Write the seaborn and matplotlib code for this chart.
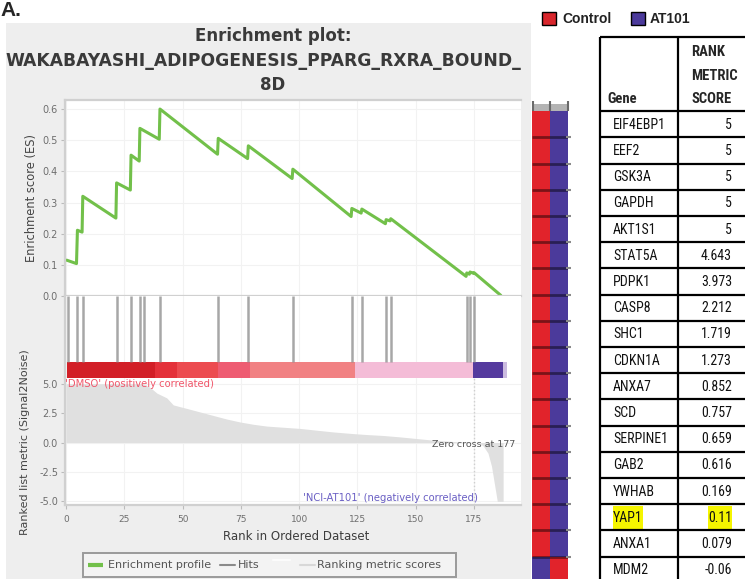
import numpy as np
import pandas as pd
import matplotlib
matplotlib.use("Agg")
import matplotlib.pyplot as plt
import seaborn as sns
from matplotlib import font_manager as fm
from matplotlib.colors import ListedColormap
from matplotlib.patches import Rectangle

# ---------------- data ----------------
es_rank = [0.3, 4.5, 4.9, 6.9, 7.2, 21.4, 21.7, 27.6, 27.9, 31.4, 31.7, 40.0, 40.3,
           65.0, 65.3, 77.9, 78.2, 97.0, 97.3, 122.3, 122.6, 126.6, 126.9, 137.0,
           137.3, 139.0, 139.3, 171.6, 171.9, 173.0, 173.3, 174.7, 175.0, 186.5]
es_value = [0.115, 0.104, 0.211, 0.205, 0.320, 0.250, 0.363, 0.340, 0.452, 0.433,
            0.538, 0.503, 0.600, 0.455, 0.506, 0.441, 0.482, 0.377, 0.407, 0.255,
            0.281, 0.266, 0.279, 0.232, 0.245, 0.241, 0.248, 0.063, 0.074, 0.070,
            0.077, 0.073, 0.075, 0.002]
hit_ranks = [1.0, 4.9, 7.2, 21.7, 27.9, 31.7, 33.5, 40.3, 65.3, 78.2, 97.3, 122.6,
             126.9, 137.3, 139.3, 171.9, 173.3, 175.0]
metric_rank = [0, 33, 36, 39, 43.2, 46.0, 51.8, 57.5, 63.2, 68.9, 74.6, 80.4, 86.1,
               93.2, 100.4, 107.5, 114.7, 123.2, 129.0, 136.1, 143.3, 150.4, 157.6,
               165.0, 172.0, 177.0, 179.0, 181.0, 182.5, 183.5, 185.0, 187.5]
metric_value = [5.0, 5.0, 4.7, 4.2, 3.8, 3.2, 2.9, 2.6, 2.3, 2.0, 1.75, 1.55, 1.4,
                1.3, 1.2, 1.05, 0.9, 0.76, 0.68, 0.6, 0.48, 0.34, 0.2, 0.1, 0.03,
                0.0, -0.3, -0.9, -2.0, -3.2, -5.0, -5.0]
bar_edges = [0.3, 38.2, 47.5, 65.3, 78.9, 124.0, 174.7, 187.6, 189.0]
bar_colors = ['#d21f27', '#e4313a', '#ec4b50', '#ee5c72', '#f18183', '#f4bcd7',
              '#553a9e', '#cbbbdf']
es_ticks = [0.0, 0.1, 0.2, 0.3, 0.4, 0.5, 0.6]
metric_ticks = [5.0, 2.5, 0.0, -2.5, -5.0]
rank_ticks = [0, 25, 50, 75, 100, 125, 150, 175]
zero_cross = 177

genes = ['EIF4EBP1', 'EEF2', 'GSK3A', 'GAPDH', 'AKT1S1', 'STAT5A', 'PDPK1', 'CASP8',
         'SHC1', 'CDKN1A', 'ANXA7', 'SCD', 'SERPINE1', 'GAB2', 'YWHAB', 'YAP1',
         'ANXA1', 'MDM2']
scores = ['5', '5', '5', '5', '5', '4.643', '3.973', '2.212', '1.719', '1.273',
          '0.852', '0.757', '0.659', '0.616', '0.169', '0.11', '0.079', '-0.06']
control_expr = [1] * 17 + [-1]
at101_expr = [-1] * 17 + [1]
groups = ['Control', 'AT101']
group_colors = ['#d8262c', '#4b3a9b']
highlight_gene = 'YAP1'

# ---------------- fonts ----------------
def pick(names, default='DejaVu Sans'):
    for n in names:
        try:
            fm.findfont(fm.FontProperties(family=n), fallback_to_default=False)
            return n
        except Exception:
            pass
    return default

sns.set_style("white")
plt.rcParams['font.family'] = ['DejaVu Sans']
plt.rcParams['axes.unicode_minus'] = False
narrow = pick(['Liberation Sans Narrow', 'Roboto Condensed', 'Open Sans Condensed'], 'Liberation Sans')
arial = pick(['Liberation Sans', 'Arimo'], 'DejaVu Sans')

W, H = 745, 579
fig = plt.figure(figsize=(W / 100, H / 100), dpi=100)
fig.patch.set_facecolor('white')


def px_axes(x0, y0, x1, y1):
    return fig.add_axes([x0 / W, 1 - y1 / H, (x1 - x0) / W, (y1 - y0) / H])


bg = px_axes(0, 0, W, H)
bg.set_xlim(0, W)
bg.set_ylim(H, 0)
bg.axis('off')
bg.add_patch(Rectangle((6, 23), 525, 560, color='#eeeeee', lw=0))

X0, X1 = 65, 521
PXR = 2.3314
xl = ((X0 - 66) / PXR, (X1 - 66) / PXR)
spine_c = '#d0d0d0'
tick_c = '#6e6e6e'

# ---- ES panel ----
ax_es = px_axes(X0, 100, X1, 296)
ax_es.set_facecolor('white')
sns.lineplot(x=es_rank, y=es_value, ax=ax_es, color='#72c04a', lw=2.2,
             estimator=None, sort=False)
for ln in ax_es.lines:
    ln.set_clip_on(False)
ax_es.set_xlim(xl)
ax_es.set_ylim(0, 0.629)
ax_es.set_yticks(es_ticks)
ax_es.set_yticklabels([f'{v:.1f}' for v in es_ticks])
ax_es.set_xticks(rank_ticks)
ax_es.tick_params(axis='x', length=0, labelbottom=False)
ax_es.tick_params(axis='y', length=3, color='#bbbbbb', labelsize=7, labelcolor=tick_c, pad=2, left=True)
ax_es.grid(True, color='#f2f2f2', lw=0.8)
ax_es.set_axisbelow(True)
for s in ax_es.spines.values():
    s.set_color(spine_c)
    s.set_linewidth(1.6)
ax_es.spines['right'].set_visible(False)
ax_es.set_xlabel('')
ax_es.set_ylabel('')

# ---- hits + colour bar panel ----
ax_h = px_axes(X0, 296, X1, 378)
ax_h.set_facecolor('white')
ax_h.set_xlim(xl)
ax_h.set_ylim(82, 0)
ax_h.vlines(hit_ranks, 0, 66, color='#8a8a8a', lw=1.8, alpha=0.75)
for a, b, c in zip(bar_edges[:-1], bar_edges[1:], bar_colors):
    ax_h.fill_between([a, b], 66, 81.5, color=c, lw=0)
ax_h.set_xticks(rank_ticks)
ax_h.grid(True, axis='x', color='#f2f2f2', lw=0.8)
ax_h.set_axisbelow(True)
ax_h.tick_params(length=0, labelbottom=False, labelleft=False)
for s in ax_h.spines.values():
    s.set_visible(False)
ax_h.spines['left'].set_visible(True)
ax_h.spines['left'].set_color(spine_c)
ax_h.spines['left'].set_linewidth(1.6)

# ---- ranked metric panel ----
ax_m = px_axes(X0, 377.5, X1, 505)
ax_m.set_facecolor('white')
ax_m.fill_between(metric_rank, 0, metric_value, color='#e0e0e0', lw=0)
ax_m.axvline(zero_cross - 2, color='#cfcfcf', lw=1, ls=':')
ax_m.set_xlim(xl)
ax_m.set_ylim(-5.31, 5.53)
ax_m.set_yticks(metric_ticks)
ax_m.set_yticklabels([f'{v:.1f}' for v in metric_ticks])
ax_m.set_xticks(rank_ticks)
ax_m.set_xticklabels([str(t) for t in rank_ticks])
ax_m.tick_params(axis='y', length=3, color='#bbbbbb', labelsize=7, labelcolor=tick_c, pad=2, left=True)
ax_m.tick_params(axis='x', length=3, color='#bbbbbb', labelsize=6.5, labelcolor=tick_c, pad=4, bottom=True)
ax_m.grid(True, color='#f2f2f2', lw=0.8)
ax_m.set_axisbelow(True)
for s in ax_m.spines.values():
    s.set_color(spine_c)
    s.set_linewidth(1.6)
ax_m.spines['right'].set_visible(False)
ax_m.spines['top'].set_visible(False)
ax_m.text(-0.5, 5.0, "'DMSO' (positively correlated)", color='#f0566a', fontsize=7.2,
          va='center', ha='left')
ax_m.text(176.5, -4.75, "'NCI-AT101' (negatively correlated)", color='#6a5fc4',
          fontsize=7.2, va='center', ha='right')
ax_m.text(157, -0.15, f"Zero cross at {zero_cross}", color='#555555', fontsize=6.8,
          va='center', ha='left')

# ---- heat strip ----
n = len(genes)
RH = 26.2
TYH = 111.2
ax_hm = px_axes(532, TYH, 568, TYH + n * RH)
hm = pd.DataFrame({groups[0]: control_expr, groups[1]: at101_expr}, index=genes)
sns.heatmap(hm, ax=ax_hm, cmap=ListedColormap([group_colors[1], '#e1232b']), vmin=-1, vmax=1,
            cbar=False, xticklabels=False, yticklabels=False)
ax_hm.hlines(np.arange(1, n), 0, 2, color='black', alpha=0.45, lw=2)
ax_hm.set_xlabel('')
ax_hm.set_ylabel('')

# ---------------- overlay (text, table, legends) ----------------
fg = px_axes(0, 0, W, H)
fg.set_xlim(0, W)
fg.set_ylim(H, 0)
fg.axis('off')
fg.set_zorder(10)

fg.text(0, 16, 'A.', fontsize=15, fontweight='bold', family=arial, va='baseline', ha='left')

tc = '#3a3a3a'
fg.text(273, 36, 'Enrichment plot:', ha='center', va='center', fontsize=12,
        fontweight='bold', color=tc)
fg.text(263, 61, 'WAKABAYASHI_ADIPOGENESIS_PPARG_RXRA_BOUND_', ha='center', va='center',
        fontsize=12.3, fontweight='bold', color=tc)
fg.text(273, 85, '8D', ha='center', va='center', fontsize=12, fontweight='bold', color=tc)

fg.text(31.5, 198, 'Enrichment score (ES)', rotation=90, ha='center', va='center',
        fontsize=8.3, color='#444444')
fg.text(25, 442, 'Ranked list metric (Signal2Noise)', rotation=90, ha='center',
        va='center', fontsize=8, color='#444444')
fg.text(296, 536, 'Rank in Ordered Dataset', ha='center', va='center', fontsize=8.5,
        color='#3c3c3c')

# bottom legend
fg.add_patch(Rectangle((83, 553), 373, 24, fc='#f3f3f3', ec='#9a9a9a', lw=1.4))
fg.plot([88, 103], [565, 565], color='#72c04a', lw=3, solid_capstyle='butt')
fg.text(108, 565, 'Enrichment profile', va='center', ha='left', fontsize=8, color='#555555')
fg.plot([220, 235], [565, 565], color='#8a8a8a', lw=1.5)
fg.text(238, 565, 'Hits', va='center', ha='left', fontsize=8, color='#555555')
fg.plot([273, 290], [560, 560], color='#fbfbfb', lw=1.5)
fg.plot([300, 315], [565, 565], color='#d8d8d8', lw=1.5)
fg.text(317, 565, 'Ranking metric scores', va='center', ha='left', fontsize=8, color='#555555')

# heat strip top band and ticks
fg.add_patch(Rectangle((532, 104), 36, 7, color='#b4b4b4', lw=0))
fg.vlines([533, 550, 567.5], 101, 111, color='#6a6a6a', lw=1.5)
fg.hlines([TYH + RH * (i + 1) for i in range(n - 1)], 566, 571, color='#8a8a8a', lw=1.5)

# top legend
fg.add_patch(Rectangle((541.7, 11.7), 14.3, 13.3, fc=group_colors[0], ec='black', lw=1))
fg.text(562, 19, groups[0], fontsize=10, fontweight='bold', family=arial, va='center',
        ha='left', color='#222222')
fg.add_patch(Rectangle((631, 11.7), 14.3, 13.3, fc=group_colors[1], ec='black', lw=1))
fg.text(650, 19, groups[1], fontsize=10, fontweight='bold', family=arial, va='center',
        ha='left', color='#222222')

# table
TX0, TXM, TX1 = 600, 677.7, 745
TY0 = 36.7
fg.hlines([TY0, TYH] + [TYH + RH * (i + 1) for i in range(n - 1)], TX0, TX1,
          color='black', lw=1.6)
fg.vlines([TX0, TXM], TY0, H + 5, color='black', lw=1.6)
fg.text(607, 99, 'Gene', fontsize=10.5, fontweight='bold', family=narrow, va='center', ha='left')
for yy, t in zip([52, 75.5, 99], ['RANK', 'METRIC', 'SCORE']):
    fg.text(691, yy, t, fontsize=10.5, fontweight='bold', family=narrow, va='center', ha='left')

fig.canvas.draw()
renderer = fig.canvas.get_renderer()
inv = fg.transData.inverted()
for i, (g, s) in enumerate(zip(genes, scores)):
    yc = TYH + RH * (i + 0.5) + 0.5
    t1 = fg.text(613, yc, g, fontsize=10, family=narrow, va='center', ha='left', color='#111111')
    t2 = fg.text(732, yc, s, fontsize=10, family=narrow, va='center', ha='right', color='#111111')
    if g == highlight_gene:
        for t in (t1, t2):
            bb = t.get_window_extent(renderer)
            (xa, ya), (xb, yb) = inv.transform([[bb.x0, bb.y0], [bb.x1, bb.y1]])
            fg.add_patch(Rectangle((xa, TYH + RH * i + 1.5), xb - xa, RH - 3,
                                   color='#f5f500', lw=0, zorder=0.5))

fig.savefig('out.png', dpi=100, facecolor='white')
